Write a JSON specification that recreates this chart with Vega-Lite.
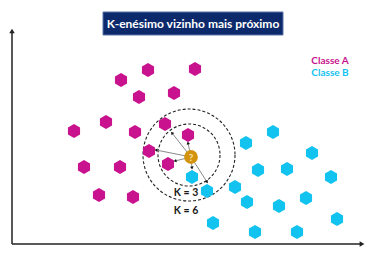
{
  "$schema": "https://vega.github.io/schema/vega-lite/v6.json",
  "width": 373,
  "height": 253,
  "autosize": {"type": "fit", "contains": "padding"},
  "padding": 0,
  "background": "white",
  "config": {"view": {"stroke": null}},
  "layer": [
    {
      "data": {"values": [{"x": 103, "x2": 283, "y": 12, "y2": 35}]},
      "mark": {"type": "rect", "fill": "#0c2a6b", "stroke": "#5a74a8", "strokeWidth": 1},
      "encoding": {
        "x": {"field": "x", "type": "quantitative", "scale": {"domain": [0, 373], "nice": false, "zero": false}, "axis": null},
        "x2": {"field": "x2"},
        "y": {"field": "y", "type": "quantitative", "scale": {"domain": [0, 253], "nice": false, "zero": false, "reverse": true}, "axis": null},
        "y2": {"field": "y2"}
      }
    },
    {
      "data": {"values": [{"x": 193, "y": 24, "t": "K-enésimo vizinho mais próximo"}]},
      "mark": {"type": "text", "color": "white", "font": "Lato", "fontWeight": "bold", "fontSize": 12, "align": "center", "baseline": "middle"},
      "encoding": {
        "x": {"field": "x", "type": "quantitative"},
        "y": {"field": "y", "type": "quantitative"},
        "text": {"field": "t"}
      }
    },
    {
      "data": {"values": [
        {"x": 12, "y": 244, "x2": 12, "y2": 32},
        {"x": 12, "y": 244, "x2": 360, "y2": 244}
      ]},
      "mark": {"type": "rule", "color": "#222222", "strokeWidth": 1.5},
      "encoding": {
        "x": {"field": "x", "type": "quantitative"},
        "y": {"field": "y", "type": "quantitative"},
        "x2": {"field": "x2"},
        "y2": {"field": "y2"}
      }
    },
    {
      "data": {"values": [
        {"x": 12, "y": 31, "a": 0},
        {"x": 362, "y": 244, "a": 90}
      ]},
      "mark": {"type": "point", "shape": "triangle-up", "filled": true, "color": "#222222", "size": 30, "opacity": 1},
      "encoding": {
        "x": {"field": "x", "type": "quantitative"},
        "y": {"field": "y", "type": "quantitative"},
        "angle": {"field": "a", "type": "quantitative", "scale": null}
      }
    },
    {
      "data": {"values": [
        {"x": 189, "y": 155, "k": "K = 3"},
        {"x": 189, "y": 155, "k": "K = 6"}
      ]},
      "mark": {"type": "point", "filled": false, "shape": "circle", "color": "#222222", "strokeWidth": 1.1, "strokeDash": [3, 2], "opacity": 1},
      "encoding": {
        "x": {"field": "x", "type": "quantitative"},
        "y": {"field": "y", "type": "quantitative"},
        "size": {"field": "k", "type": "nominal", "scale": {"domain": ["K = 3", "K = 6"], "range": [3844, 8464]}, "legend": null}
      }
    },
    {
      "data": {"values": [
        {"x": 191, "y": 157, "x2": 172, "y2": 133},
        {"x": 191, "y": 157, "x2": 188, "y2": 143},
        {"x": 191, "y": 157, "x2": 156, "y2": 150},
        {"x": 191, "y": 157, "x2": 175, "y2": 161},
        {"x": 191, "y": 157, "x2": 192, "y2": 168},
        {"x": 191, "y": 157, "x2": 207, "y2": 182}
      ]},
      "mark": {"type": "rule", "color": "#8a8a8a", "strokeWidth": 1},
      "encoding": {
        "x": {"field": "x", "type": "quantitative"},
        "y": {"field": "y", "type": "quantitative"},
        "x2": {"field": "x2"},
        "y2": {"field": "y2"}
      }
    },
    {
      "data": {"values": [
        {"x": 172, "y": 133, "a": 322},
        {"x": 188, "y": 143, "a": 348},
        {"x": 156, "y": 150, "a": 281},
        {"x": 175, "y": 161, "a": 256},
        {"x": 192, "y": 168, "a": 175},
        {"x": 207, "y": 182, "a": 147}
      ]},
      "mark": {"type": "point", "shape": "triangle-up", "filled": true, "color": "#111111", "size": 12, "opacity": 1},
      "encoding": {
        "x": {"field": "x", "type": "quantitative"},
        "y": {"field": "y", "type": "quantitative"},
        "angle": {"field": "a", "type": "quantitative", "scale": null}
      }
    },
    {
      "data": {"values": [
        {"x": 148, "y": 70, "c": "A"}, {"x": 195, "y": 69, "c": "A"}, {"x": 121, "y": 80, "c": "A"},
        {"x": 174, "y": 93, "c": "A"}, {"x": 139, "y": 97, "c": "A"}, {"x": 106, "y": 122, "c": "A"},
        {"x": 74, "y": 131, "c": "A"}, {"x": 135, "y": 132, "c": "A"}, {"x": 165, "y": 124, "c": "A"},
        {"x": 188, "y": 135, "c": "A"}, {"x": 149, "y": 151, "c": "A"}, {"x": 168, "y": 164, "c": "A"},
        {"x": 84, "y": 167, "c": "A"}, {"x": 120, "y": 167, "c": "A"}, {"x": 99, "y": 195, "c": "A"},
        {"x": 133, "y": 197, "c": "A"},
        {"x": 273, "y": 132, "c": "B"}, {"x": 246, "y": 143, "c": "B"}, {"x": 312, "y": 153, "c": "B"},
        {"x": 192, "y": 177, "c": "B"}, {"x": 258, "y": 170, "c": "B"}, {"x": 287, "y": 169, "c": "B"},
        {"x": 331, "y": 177, "c": "B"}, {"x": 235, "y": 187, "c": "B"}, {"x": 207, "y": 191, "c": "B"},
        {"x": 247, "y": 202, "c": "B"}, {"x": 279, "y": 206, "c": "B"}, {"x": 306, "y": 198, "c": "B"},
        {"x": 337, "y": 219, "c": "B"}, {"x": 213, "y": 223, "c": "B"}, {"x": 255, "y": 232, "c": "B"},
        {"x": 297, "y": 232, "c": "B"}
      ]},
      "mark": {"type": "point", "filled": true, "opacity": 1, "size": 196, "strokeWidth": 0, "shape": "M0,-1L0.866,-0.5L0.866,0.5L0,1L-0.866,0.5L-0.866,-0.5Z"},
      "encoding": {
        "x": {"field": "x", "type": "quantitative"},
        "y": {"field": "y", "type": "quantitative"},
        "color": {"field": "c", "type": "nominal", "scale": {"domain": ["A", "B"], "range": ["#c8128e", "#12c2ef"]}, "legend": null}
      }
    },
    {
      "data": {"values": [{"x": 191, "y": 157}]},
      "mark": {"type": "point", "shape": "circle", "filled": true, "opacity": 1, "size": 190, "color": "#d4930d"},
      "encoding": {
        "x": {"field": "x", "type": "quantitative"},
        "y": {"field": "y", "type": "quantitative"}
      }
    },
    {
      "data": {"values": [{"x": 191, "y": 157.5, "t": "?"}]},
      "mark": {"type": "text", "color": "#f5e6b0", "font": "Lato", "fontWeight": "bold", "fontSize": 10, "align": "center", "baseline": "middle"},
      "encoding": {
        "x": {"field": "x", "type": "quantitative"},
        "y": {"field": "y", "type": "quantitative"},
        "text": {"field": "t"}
      }
    },
    {
      "data": {"values": [
        {"x": 186, "y": 193, "t": "K = 3"},
        {"x": 186, "y": 211, "t": "K = 6"}
      ]},
      "mark": {"type": "text", "color": "#1a1a1a", "font": "Lato", "fontWeight": "bold", "fontSize": 10.5, "align": "center", "baseline": "middle"},
      "encoding": {
        "x": {"field": "x", "type": "quantitative"},
        "y": {"field": "y", "type": "quantitative"},
        "text": {"field": "t"}
      }
    },
    {
      "data": {"values": [
        {"x": 330, "y": 61, "t": "Classe A", "c": "A"},
        {"x": 330, "y": 73, "t": "Classe B", "c": "B"}
      ]},
      "mark": {"type": "text", "font": "Lato", "fontWeight": "bold", "fontSize": 10, "align": "center", "baseline": "middle"},
      "encoding": {
        "x": {"field": "x", "type": "quantitative"},
        "y": {"field": "y", "type": "quantitative"},
        "text": {"field": "t"},
        "color": {"field": "c", "type": "nominal", "scale": {"domain": ["A", "B"], "range": ["#c8128e", "#12c2ef"]}, "legend": null}
      }
    }
  ]
}
